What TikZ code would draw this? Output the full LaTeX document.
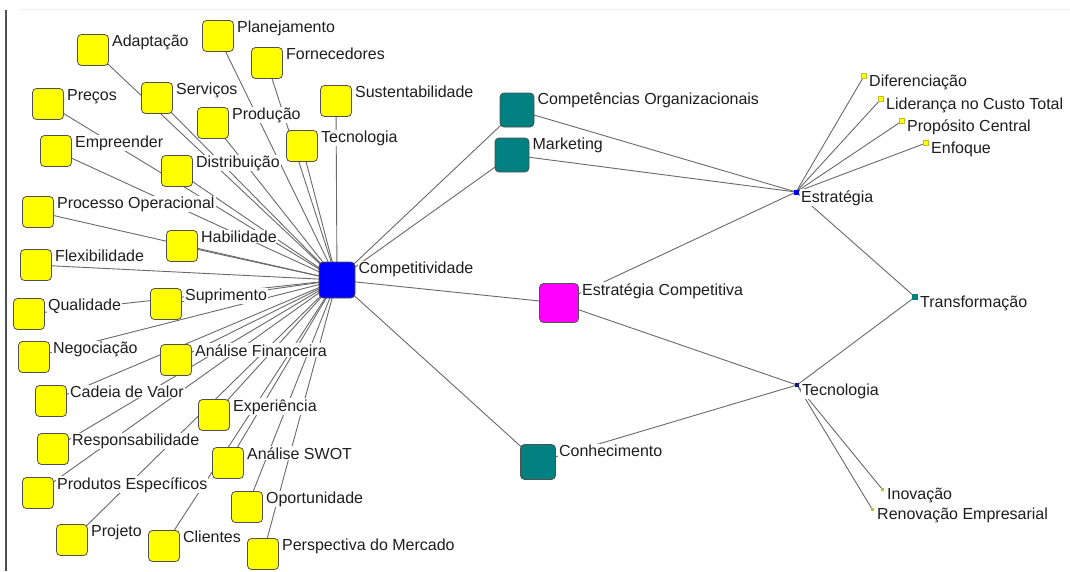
\documentclass[tikz,border=0pt]{standalone}
\usepackage{fontspec}
\setmainfont{Liberation Sans}
\pgfdeclarelayer{bg}
\pgfdeclarelayer{edges}
\pgfdeclarelayer{labels}
\pgfsetlayers{bg,edges,labels,main}
\definecolor{boxline}{RGB}{80,80,80}
\definecolor{edgecol}{RGB}{105,105,105}
\definecolor{tealbox}{RGB}{0,128,128}
\definecolor{ybox}{RGB}{255,255,0}
\definecolor{bbox}{RGB}{0,0,255}
\definecolor{mbox}{RGB}{255,0,255}
\definecolor{olivedot}{RGB}{190,190,40}
\definecolor{navydot}{RGB}{20,20,140}
\tikzset{
  box/.style={draw=boxline, line width=0.8pt, rounded corners=4pt, minimum size=31pt, inner sep=0pt},
  ybx/.style={box, fill=ybox},
  lbl/.style={anchor=base west, fill=white, inner sep=1pt, text={rgb,255:red,30;green,30;blue,30}, font=\fontsize{16}{19}\selectfont},
  edge/.style={draw=edgecol, line width=0.9pt},
  sq/.style={draw=none, inner sep=0pt, minimum size=5pt}
}
\newcommand\ynode[3]{%
  \node[ybx] (#1) at (#2) {};
  \begin{pgfonlayer}{labels}\node[lbl] (#1-l) at ([xshift=2pt,yshift=-12pt]#1.north east) {#3};\end{pgfonlayer}}
\newcommand\bnode[4]{%
  \node[box,#4] (#1) at (#2) {};
  \begin{pgfonlayer}{labels}\node[lbl] (#1-l) at ([xshift=2pt,yshift=-12pt]#1.north east) {#3};\end{pgfonlayer}}
\newcommand\snode[4]{%
  \node[sq,#4] (#1) at (#2) {};
  \begin{pgfonlayer}{labels}\node[lbl] (#1-l) at ([xshift=4pt,yshift=-10pt]#1.center) {#3};\end{pgfonlayer}}
\begin{document}
\begin{tikzpicture}[x=1pt,y=-1pt]
\useasboundingbox (0,0) rectangle (1070,571);
\begin{pgfonlayer}{bg}
\fill[white] (0,0) rectangle (1070,571);
\draw[line width=1.2pt, boxline] (6,10) -- (6,571);
\draw[line width=0.6pt, gray!12] (20,9) -- (1070,9);
\end{pgfonlayer}

% yellow nodes
\ynode{adap}{93,50}{Adaptação}
\ynode{plan}{218,36}{Planejamento}
\ynode{forn}{267,63}{Fornecedores}
\ynode{serv}{157,98}{Serviços}
\ynode{prec}{48,104}{Preços}
\ynode{prod}{213,123}{Produção}
\ynode{sust}{336,101}{Sustentabilidade}
\ynode{ytec}{302,146}{Tecnologia}
\ynode{empr}{56,151}{Empreender}
\ynode{dist}{177,171}{Distribuição}
\ynode{proc}{38,212}{Processo Operacional}
\ynode{habi}{182,246}{Habilidade}
\ynode{flex}{36,265}{Flexibilidade}
\ynode{qual}{29,314}{Qualidade}
\ynode{supr}{166,304}{Suprimento}
\ynode{nego}{34,357}{Negociação}
\ynode{anfi}{176,360}{Análise Financeira}
\ynode{cade}{51,401}{Cadeia de Valor}
\ynode{expe}{214,415}{Experiência}
\ynode{resp}{53,449}{Responsabilidade}
\ynode{swot}{228,463}{Análise SWOT}
\ynode{pesp}{38,493}{Produtos Específicos}
\ynode{opor}{247,507}{Oportunidade}
\ynode{proj}{72,540}{Projeto}
\ynode{clie}{164,546}{Clientes}
\ynode{pmer}{263,554}{Perspectiva do Mercado}

% main nodes
\bnode{comp}{337,280}{Competitividade}{fill=bbox, minimum size=36pt}
\bnode{corg}{517,110}{Competências Organizacionais}{fill=tealbox, minimum size=34pt}
\bnode{mark}{512,155}{Marketing}{fill=tealbox, minimum size=34pt}
\bnode{ecom}{559,303}{Estratégia Competitiva}{fill=mbox, minimum size=39pt}
\bnode{conh}{538,462}{Conhecimento}{fill=tealbox, minimum size=35pt}

% small nodes
\snode{estr}{796,192}{Estratégia}{fill=bbox, minimum size=5pt}
\snode{dife}{864,76}{Diferenciação}{fill=ybox, draw=olivedot, line width=0.5pt, minimum size=5pt}
\snode{lide}{881,99}{Liderança no Custo Total}{fill=ybox, draw=olivedot, line width=0.5pt, minimum size=5pt}
\snode{prop}{902,121}{Propósito Central}{fill=ybox, draw=olivedot, line width=0.5pt, minimum size=5pt}
\snode{enfo}{926,143}{Enfoque}{fill=ybox, draw=olivedot, line width=0.5pt, minimum size=5pt}
\snode{tran}{915,297}{Transformação}{fill=tealbox, minimum size=6pt}
\snode{tecn}{797,385}{Tecnologia}{fill=navydot, minimum size=3.5pt}
\snode{inov}{882,489}{Inovação}{fill=olivedot, minimum size=3pt}
\snode{reno}{872,509}{Renovação Empresarial}{fill=olivedot, minimum size=3pt}

\begin{pgfonlayer}{edges}
\foreach \n in {adap,plan,forn,serv,prec,prod,sust,ytec,empr,dist,proc,habi,flex,qual,supr,nego,anfi,cade,expe,resp,swot,pesp,opor,proj,clie,pmer,corg,mark,ecom,conh}
  \draw[edge] (comp.center) -- (\n.center);
\draw[edge] (corg.center) -- (estr.center);
\draw[edge] (mark.center) -- (estr.center);
\draw[edge] (ecom.center) -- (estr.center);
\draw[edge] (ecom.center) -- (tecn.center);
\draw[edge] (conh.center) -- (tecn.center);
\foreach \n in {dife,lide,prop,enfo,tran}
  \draw[edge] (estr.center) -- (\n.center);
\foreach \n in {tran,inov,reno}
  \draw[edge] (tecn.center) -- (\n.center);
\end{pgfonlayer}
\end{tikzpicture}
\end{document}
